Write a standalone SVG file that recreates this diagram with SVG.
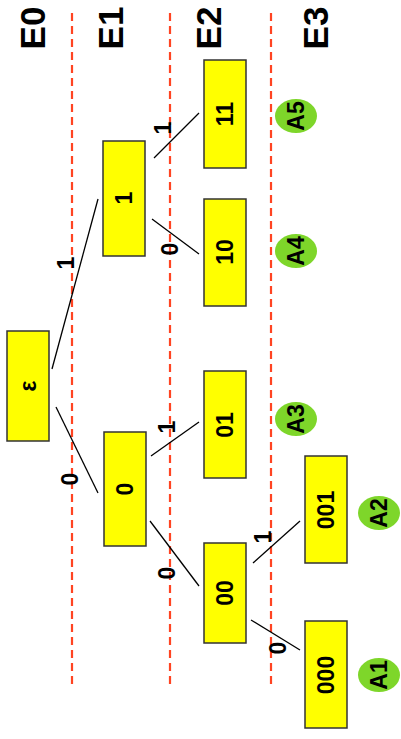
<svg xmlns="http://www.w3.org/2000/svg" width="401" height="739" viewBox="0 0 401 739">
<style>
.dash{stroke:#ff4422;stroke-width:2.2;stroke-dasharray:8 5;fill:none}
.box{fill:#ffff00;stroke:#333;stroke-width:1.5}
.leaf{fill:#7ed62a;stroke:none}
.edge{stroke:#000;stroke-width:1.3;fill:none}
text{font-family:"Liberation Sans",Arial,sans-serif;font-weight:bold;fill:#000;text-anchor:middle;dominant-baseline:central}
.hdr{font-size:35px}
.lbl{font-size:23px}
.el{font-size:23px}
</style>
<rect width="401" height="739" fill="#fff"/>
<g id="levels">
<line class="dash" x1="72" y1="13" x2="72" y2="684"/>
<line class="dash" x1="170" y1="13" x2="170" y2="684"/>
<line class="dash" x1="271" y1="13" x2="271" y2="684"/>
<text class="hdr" transform="translate(32,28) rotate(-90)">E0</text>
<text class="hdr" transform="translate(110,28) rotate(-90)">E1</text>
<text class="hdr" transform="translate(208,28) rotate(-90)">E2</text>
<text class="hdr" transform="translate(315,28) rotate(-90)">E3</text>
</g>
<g id="connectors">
<line class="edge" x1="52" y1="369" x2="98" y2="199"/>
<text class="el" transform="translate(66,263) rotate(-90)">1</text>
<line class="edge" x1="56" y1="407" x2="98" y2="493"/>
<text class="el" transform="translate(70,479) rotate(-90)">0</text>
<line class="edge" x1="154" y1="158" x2="199" y2="113"/>
<text class="el" transform="translate(163,128) rotate(-90)">1</text>
<line class="edge" x1="152" y1="219" x2="199" y2="254"/>
<text class="el" transform="translate(170,249) rotate(-90)">0</text>
<line class="edge" x1="151" y1="456" x2="199" y2="422"/>
<text class="el" transform="translate(167,427) rotate(-90)">1</text>
<line class="edge" x1="150" y1="521" x2="199" y2="586"/>
<text class="el" transform="translate(167,573) rotate(-90)">0</text>
<line class="edge" x1="253" y1="563" x2="300" y2="521"/>
<text class="el" transform="translate(263,537) rotate(-90)">1</text>
<line class="edge" x1="251" y1="620" x2="300" y2="650"/>
<text class="el" transform="translate(278,648) rotate(-90)">0</text>
</g>
<g id="n_eps"><rect class="box" x="7" y="331" width="42" height="110"/><text class="lbl" transform="translate(28,386) rotate(-90)">ε</text></g>
<g id="n_1"><rect class="box" x="103" y="141" width="42" height="115"/><text class="lbl" transform="translate(124,198) rotate(-90)">1</text></g>
<g id="n_0"><rect class="box" x="104" y="432" width="42" height="114"/><text class="lbl" transform="translate(125,489) rotate(-90)">0</text></g>
<g id="n_11"><rect class="box" x="204" y="60" width="42" height="108"/><text class="lbl" transform="translate(225,114) rotate(-90)">11</text></g>
<g id="n_10"><rect class="box" x="204" y="199" width="42" height="107"/><text class="lbl" transform="translate(225,252) rotate(-90)">10</text></g>
<g id="n_01"><rect class="box" x="204" y="371" width="42" height="107"/><text class="lbl" transform="translate(225,425) rotate(-90)">01</text></g>
<g id="n_00"><rect class="box" x="204" y="543" width="42" height="100"/><text class="lbl" transform="translate(225,593) rotate(-90)">00</text></g>
<g id="n_001"><rect class="box" x="305" y="456" width="42" height="107"/><text class="lbl" transform="translate(326,510) rotate(-90)">001</text></g>
<g id="n_000"><rect class="box" x="305" y="621" width="42" height="107"/><text class="lbl" transform="translate(326,675) rotate(-90)">000</text></g>
<g id="a5"><ellipse class="leaf" cx="296" cy="116" rx="21" ry="17"/><text class="lbl" transform="translate(296,116) rotate(-90)">A5</text></g>
<g id="a4"><ellipse class="leaf" cx="296" cy="251" rx="21" ry="17"/><text class="lbl" transform="translate(296,251) rotate(-90)">A4</text></g>
<g id="a3"><ellipse class="leaf" cx="296" cy="419" rx="21" ry="17"/><text class="lbl" transform="translate(296,419) rotate(-90)">A3</text></g>
<g id="a2"><ellipse class="leaf" cx="379" cy="513" rx="21" ry="17"/><text class="lbl" transform="translate(379,513) rotate(-90)">A2</text></g>
<g id="a1"><ellipse class="leaf" cx="379" cy="675" rx="21" ry="17"/><text class="lbl" transform="translate(379,675) rotate(-90)">A1</text></g>
</svg>
